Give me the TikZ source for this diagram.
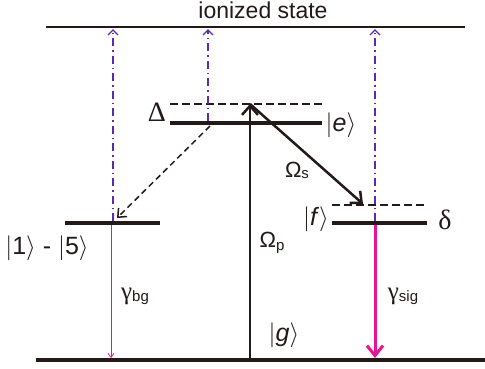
\RequirePackage{fix-cm}
\documentclass[tikz,border=0pt]{standalone}
\usepackage{fontspec}
\setmainfont{Liberation Sans}
\newfontfamily\grk{Liberation Serif}
\usetikzlibrary{arrows.meta}
\definecolor{ionpurple}{RGB}{95,40,180}
\definecolor{sigmag}{RGB}{232,20,150}
\definecolor{lvl}{RGB}{35,25,25}
\newcommand{\myket}[1]{$|$#1$\rangle$}
\tikzset{
  level/.style={draw=lvl,line width=4.5pt},
  toplevel/.style={draw=lvl,line width=2.5pt},
  virt/.style={draw=lvl,line width=2pt,dash pattern=on 8pt off 4pt},
  laser/.style={draw=lvl,line width=2.5pt,-{Straight Barb[length=9pt,width=16pt,line width=2.5pt]}},
  decay/.style={draw=lvl,line width=1.5pt,dash pattern=on 6pt off 4pt,-{Straight Barb[length=7pt,width=12pt,line width=1.5pt]}},
  ion/.style={draw=ionpurple,line width=1.4pt,dash pattern=on 8pt off 4pt on 1.5pt off 4pt,-{Straight Barb[length=5pt,width=10pt,line width=1.4pt]}},
  lbl/.style={inner sep=0pt,text=lvl,font=\fontsize{25}{27}\selectfont},
}
\begin{document}
\begin{tikzpicture}[x=1pt,y=-1pt]
\useasboundingbox (0,0) rectangle (485,368);
% levels
\coordinate (topL) at (46,27);  \coordinate (topR) at (465,27);
\coordinate (gL) at (36,360);   \coordinate (gR) at (485,360);
\coordinate (eL) at (170,123);  \coordinate (eR) at (322,123);
\coordinate (vL) at (170,104);  \coordinate (vR) at (322,104);
\coordinate (bL) at (65,223);   \coordinate (bR) at (160,223);
\coordinate (fL) at (332,223);  \coordinate (fR) at (427,223);
\coordinate (wL) at (332,205);  \coordinate (wR) at (427,205);
\draw[toplevel] (topL) -- (topR);
\draw[level] (gL) -- (gR);
\draw[level] (eL) -- (eR);
\draw[virt] (vL) -- (vR);
\draw[level] (bL) -- (bR);
\draw[level] (fL) -- (fR);
\draw[virt] (wL) -- (wR);
% anchor points for transitions
\coordinate (pS) at (250,358);  \coordinate (pE) at (250,104);
\coordinate (sE) at (363,204);
\coordinate (dS) at (210,126);  \coordinate (dE) at (117,218);
\coordinate (i1S) at (113,221); \coordinate (i1E) at (113,29);
\coordinate (i2S) at (208,121); \coordinate (i2E) at (208,29);
\coordinate (i3S) at (375,221); \coordinate (i3E) at (375,29);
\coordinate (bgS) at (111,225); \coordinate (bgE) at (111,358);
\coordinate (sgS) at (375,225); \coordinate (sgE) at (375,358);
% ionization
\draw[ion] (i1S) -- (i1E);
\draw[ion] (i2S) -- (i2E);
\draw[ion] (i3S) -- (i3E);
% lasers
\draw[laser] (pS) -- (pE);
\draw[laser] (pE) -- (sE);
\draw[decay] (dS) -- (dE);
% decays
\draw[draw=sigmag,line width=0.8pt,-{Straight Barb[length=4pt,width=6pt,line width=0.8pt]}] (bgS) -- (bgE);
\draw[draw=sigmag,line width=3pt,-{Straight Barb[length=10pt,width=16pt,line width=3pt]}] (sgS) -- (sgE);
% labels
\node[lbl,font=\fontsize{23}{26}\selectfont] (ion) at (263,10) {ionized state};
\node[lbl,font=\fontsize{28}{28}\selectfont\grk] (Dl) at (157,112) {Δ};
\node[lbl] (el) at (341,125) {\myket{\textit{e}}};
\node[lbl] (fl) at (316,219) {\myket{\textit{f}}};
\node[lbl,font=\fontsize{28}{28}\selectfont\grk] (dl) at (445,220) {δ};
\node[lbl] (gl) at (284,335) {\myket{\textit{g}}};
\node[lbl] (b15) at (47,248) {\myket{1} - \myket{5}};
\node[lbl,font=\fontsize{22}{22}\selectfont] (Os) at (297,170) {Ω\raisebox{-1pt}{\fontsize{15}{15}\selectfont s}};
\node[lbl,font=\fontsize{22}{22}\selectfont] (Op) at (272,243) {Ω\raisebox{-3pt}{\fontsize{15}{15}\selectfont p}};
\node[lbl,font=\fontsize{25}{25}\selectfont] (gbg) at (135,296) {{\grk γ}\raisebox{-2pt}{\fontsize{15}{15}\selectfont\rmfamily bg}};
\node[lbl,font=\fontsize{25}{25}\selectfont] (gsig) at (403,296) {{\grk γ}\raisebox{-2pt}{\fontsize{15}{15}\selectfont\rmfamily sig}};
\end{tikzpicture}
\end{document}
